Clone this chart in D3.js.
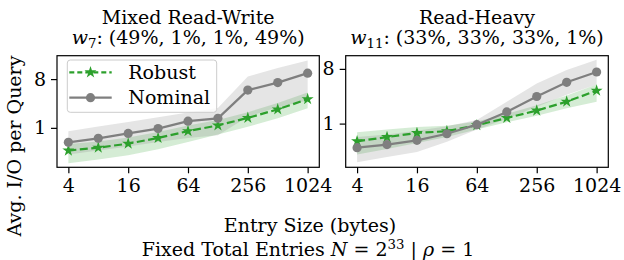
<!DOCTYPE html>
<html>
<head>
<meta charset="utf-8">
<script src="https://cdn.jsdelivr.net/npm/d3@7"></script>
<style>
  body { margin: 0; background: #fff; }
  svg { display: block; }
  text { font-family: "DejaVu Serif", serif; fill: #000; }
</style>
</head>
<body>
<div id="chart"></div>
<script>
// entry sizes (bytes) on the x axis
var entrySizes = [4, 8, 16, 32, 64, 128, 256, 512, 1024];
var xTicks = [4, 16, 64, 256, 1024];
var yTicks = [1, 8];

// Mixed Read-Write, w7
var mixedRobust    = [0.38, 0.43, 0.51, 0.65, 0.87, 1.11, 1.53, 2.2, 3.4];
var mixedRobustLo  = [0.22, 0.26, 0.31, 0.40, 0.55, 0.75, 1.05, 1.5, 2.3];
var mixedRobustHi  = [0.50, 0.56, 0.66, 0.84, 1.10, 1.40, 1.95, 2.9, 4.5];
var mixedNominal   = [0.54, 0.64, 0.79, 0.97, 1.33, 1.50, 5.0, 6.9, 10.3];
var mixedNominalLo = [0.32, 0.38, 0.45, 0.55, 0.65, 0.73, 1.6, 2.4, 3.2];
var mixedNominalHi = [0.87, 1.06, 1.29, 1.57, 1.92, 2.33, 8.9, 12.8, 17.6];

// Read-Heavy, w11
var readRobust    = [0.51, 0.60, 0.70, 0.75, 0.94, 1.24, 1.64, 2.3, 3.5];
var readRobustLo  = [0.31, 0.38, 0.48, 0.60, 0.80, 1.05, 1.35, 1.8, 2.3];
var readRobustHi  = [0.72, 0.80, 0.88, 0.92, 1.08, 1.45, 2.0, 2.9, 4.4];
var readNominal   = [0.40, 0.45, 0.53, 0.68, 0.96, 1.56, 2.8, 4.8, 7.1];
var readNominalLo = [0.23, 0.28, 0.34, 0.50, 0.80, 1.20, 1.9, 3.0, 4.4];
var readNominalHi = [0.60, 0.66, 0.76, 0.90, 1.15, 2.3, 4.6, 7.7, 11.3];

var W = 624, H = 260;
var green = "#2ca02c", gray = "#7f7f7f";
var fs = 19;

var svg = d3.select("#chart").append("svg")
    .attr("width", W).attr("height", H);

var panels = [
    {title: "Mixed Read-Write", wSub: "7", mix: ": (49%, 1%, 1%, 49%)",
     left: 57, right: 319.3, yDomain: [0.186, 21.7],
     robust: mixedRobust, robustLo: mixedRobustLo, robustHi: mixedRobustHi,
     nominal: mixedNominal, nominalLo: mixedNominalLo, nominalHi: mixedNominalHi,
     legend: true},
    {title: "Read-Heavy", wSub: "11", mix: ": (33%, 33%, 33%, 1%)",
     left: 345.7, right: 608.3, yDomain: [0.19, 13.2],
     robust: readRobust, robustLo: readRobustLo, robustHi: readRobustHi,
     nominal: readNominal, nominalLo: readNominalLo, nominalHi: readNominalHi,
     legend: false}
];
var plotTop = 55.7, plotBottom = 167.3;

panels.forEach(function (p, k) {
    var x = d3.scaleLog().base(2).domain([Math.pow(2, 1.62), Math.pow(2, 10.39)]).range([p.left, p.right]);
    var y = d3.scaleLog().base(2).domain(p.yDomain).range([plotBottom, plotTop]);
    var g = svg.append("g");
    var clipId = "clip" + k;
    g.append("clipPath").attr("id", clipId).append("rect")
        .attr("x", p.left).attr("y", plotTop).attr("width", p.right - p.left).attr("height", plotBottom - plotTop);
    var plot = g.append("g").attr("clip-path", "url(#" + clipId + ")");

    function band(lo, hi) {
        return d3.area()
            .x(function (d, i) { return x(entrySizes[i]); })
            .y0(function (d, i) { return y(lo[i]); })
            .y1(function (d, i) { return y(hi[i]); })(entrySizes);
    }
    var line = function (vals) {
        return d3.line()
            .x(function (d, i) { return x(entrySizes[i]); })
            .y(function (d, i) { return y(vals[i]); })(entrySizes);
    };

    plot.append("path").attr("d", band(p.robustLo, p.robustHi))
        .attr("fill", green).attr("fill-opacity", 0.2);
    plot.append("path").attr("d", band(p.nominalLo, p.nominalHi))
        .attr("fill", gray).attr("fill-opacity", 0.2);

    // robust: dashed green with stars
    plot.append("path").attr("d", line(p.robust))
        .attr("fill", "none").attr("stroke", green).attr("stroke-width", 2.2)
        .attr("stroke-dasharray", "8,3.5");
    plot.selectAll(".star").data(p.robust).enter().append("path")
        .attr("d", d3.symbol().type(d3.symbolStar).size(45))
        .attr("transform", function (d, i) { return "translate(" + x(entrySizes[i]) + "," + y(d) + ")"; })
        .attr("fill", green);

    // nominal: solid gray with circles
    plot.append("path").attr("d", line(p.nominal))
        .attr("fill", "none").attr("stroke", gray).attr("stroke-width", 2.2);
    plot.selectAll(".dot").data(p.nominal).enter().append("circle")
        .attr("cx", function (d, i) { return x(entrySizes[i]); })
        .attr("cy", function (d) { return y(d); })
        .attr("r", 4.6).attr("fill", gray);

    // axes
    var xAxis = d3.axisBottom(x).tickValues(xTicks).tickFormat(d3.format("d")).tickSize(6).tickPadding(5);
    var yAxis = d3.axisLeft(y).tickValues(yTicks).tickFormat(d3.format("d")).tickSize(6).tickPadding(5);
    var gx = g.append("g").attr("transform", "translate(0," + plotBottom + ")").call(xAxis);
    var gy = g.append("g").attr("transform", "translate(" + p.left + ",0)").call(yAxis);
    [gx, gy].forEach(function (a) {
        a.select(".domain").remove();
        a.selectAll("line").attr("stroke", "#000").attr("stroke-width", 1.2);
        a.selectAll("text").attr("font-size", fs).attr("font-family", "DejaVu Serif");
    });
    gx.selectAll("text").attr("dy", "0.71em");

    g.append("rect").attr("x", p.left).attr("y", plotTop)
        .attr("width", p.right - p.left).attr("height", plotBottom - plotTop)
        .attr("fill", "none").attr("stroke", "#000").attr("stroke-width", 1.2);

    // titles
    var cx = (p.left + p.right) / 2;
    g.append("text").attr("x", cx).attr("y", 24).attr("text-anchor", "middle")
        .attr("font-size", fs).text(p.title);
    var t2 = g.append("text").attr("x", cx).attr("y", 44.3).attr("text-anchor", "middle")
        .attr("font-size", fs);
    t2.append("tspan").attr("font-style", "italic").text("w");
    t2.append("tspan").attr("font-size", fs * 0.7).attr("dy", 4).text(p.wSub);
    t2.append("tspan").attr("dy", -4).text(p.mix);

    if (p.legend) {
        var lg = g.append("g");
        lg.append("rect").attr("x", 67.3).attr("y", 60).attr("width", 149.4).attr("height", 52.3)
            .attr("rx", 3).attr("fill", "#fff").attr("fill-opacity", 0.8)
            .attr("stroke", "#cccccc").attr("stroke-width", 1);
        var items = [
            {label: "Robust", color: green, dash: "5,3", y: 72.3, mark: "star"},
            {label: "Nominal", color: gray, dash: null, y: 97.7, mark: "circle"}
        ];
        items.forEach(function (it) {
            lg.append("line").attr("x1", 69.3).attr("x2", 111.7).attr("y1", it.y).attr("y2", it.y)
                .attr("stroke", it.color).attr("stroke-width", 2.2)
                .attr("stroke-dasharray", it.dash);
            if (it.mark === "star") {
                lg.append("path").attr("d", d3.symbol().type(d3.symbolStar).size(45))
                    .attr("transform", "translate(90.5," + it.y + ")").attr("fill", it.color);
            } else {
                lg.append("circle").attr("cx", 90.5).attr("cy", it.y).attr("r", 4.6).attr("fill", it.color);
            }
            lg.append("text").attr("x", 128.3).attr("y", it.y + 6.5).attr("font-size", fs).text(it.label);
        });
    }
});

// shared labels
svg.append("text")
    .attr("transform", "translate(21,146) rotate(-90)")
    .attr("text-anchor", "middle").attr("font-size", fs)
    .text("Avg. I/O per Query");

svg.append("text").attr("x", 310).attr("y", 232.4).attr("text-anchor", "middle")
    .attr("font-size", fs).text("Entry Size (bytes)");

var sub = svg.append("text").attr("x", 308).attr("y", 256).attr("text-anchor", "middle")
    .attr("font-size", fs);
sub.append("tspan").text("Fixed Total Entries ");
sub.append("tspan").attr("font-style", "italic").text("N");
sub.append("tspan").text(" = 2");
sub.append("tspan").attr("font-size", fs * 0.7).attr("dy", -7).text("33");
sub.append("tspan").attr("dy", 7).text(" | ");
sub.append("tspan").attr("font-style", "italic").text("ρ");
sub.append("tspan").text(" = 1");
</script>
</body>
</html>
